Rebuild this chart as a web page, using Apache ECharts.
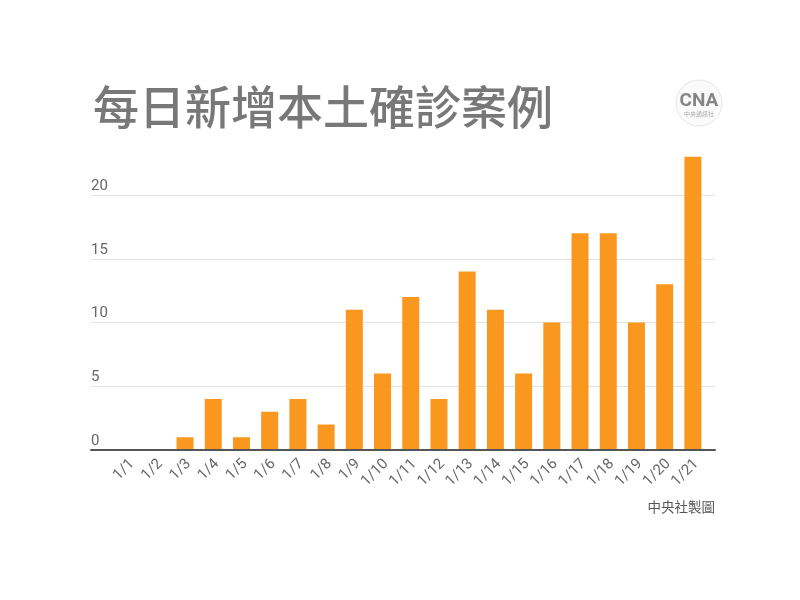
<!DOCTYPE html>
<html>
<head>
<meta charset="UTF-8">
<title>每日新增本土確診案例</title>
<script src="https://cdn.jsdelivr.net/npm/echarts@6/dist/echarts.min.js"></script>
<style>
html, body, #main { width: 800px; height: 600px; margin: 0; padding: 0; background: #fff; }
</style>
</head>
<body>
<div id="main"></div>
<script>
var days = ['1/1','1/2','1/3','1/4','1/5','1/6','1/7','1/8','1/9','1/10','1/11','1/12','1/13','1/14','1/15','1/16','1/17','1/18','1/19','1/20','1/21'];
var cases = [0,0,1,4,1,3,4,2,11,6,12,4,14,11,6,10,17,17,10,13,23];
var yTicks = [0,5,10,15,20];

var chart = echarts.init(document.getElementById('main'));
chart.setOption({
    animation: false,
    backgroundColor: '#fff',
    title: [{
        text: '每日新增本土確診案例',
        left: 88, top: 79,
        textStyle: { color: '#787878', fontSize: 46, fontWeight: 500, fontFamily: 'Noto Sans CJK TC' }
    }],
    graphic: [
        { type: 'circle', shape: { cx: 699, cy: 103, r: 23 }, style: { fill: '#fbfbfb', stroke: '#e6e6e6' } },
        { type: 'text', style: { x: 699, y: 101, text: 'CNA', align: 'center', verticalAlign: 'middle', fill: '#858585', font: 'bold 19px Roboto' } },
        { type: 'text', style: { x: 699, y: 114, text: '中央通訊社', align: 'center', verticalAlign: 'middle', fill: '#aaa', font: '6px "Noto Sans CJK TC"' } },
        { type: 'text', style: { x: 715, y: 507, text: '中央社製圖', align: 'right', verticalAlign: 'middle', fill: '#555', font: '13.5px "Noto Sans CJK TC"' } }
    ],
    // grid 0 carries the gridlines and baseline, grid 1 the inset bars
    grid: [
        { left: 91, right: 85, top: 144, bottom: 150 },
        { left: 114.5, right: 93, top: 144, bottom: 150 }
    ],
    xAxis: [{
        type: 'category',
        gridIndex: 0,
        data: days,
        axisTick: { show: false },
        axisLabel: { show: false },
        axisLine: { lineStyle: { color: '#555', width: 2 } },
        z: 5
    }, {
        type: 'category',
        gridIndex: 1,
        data: days,
        axisTick: { show: false },
        axisLine: { show: false },
        axisLabel: { rotate: 45, interval: 0, color: '#666', fontSize: 15, fontFamily: 'Roboto', margin: 8, verticalAlign: 'top', lineHeight: 10 }
    }],
    yAxis: [{
        type: 'value',
        gridIndex: 0,
        min: 0, max: 24, interval: 5,
        axisLine: { show: false },
        axisTick: { show: false },
        splitLine: { showMaxLine: false, lineStyle: { color: '#e3e3e3' } },
        axisLabel: {
            color: '#666', fontSize: 15, fontFamily: 'Roboto', inside: true, margin: 0, verticalAlign: 'bottom', lineHeight: 18,
            formatter: function (v) { return yTicks.indexOf(v) >= 0 ? String(v) : ''; }
        }
    }, {
        type: 'value',
        gridIndex: 1,
        min: 0, max: 24,
        show: false
    }],
    series: [{
        type: 'bar',
        xAxisIndex: 1,
        yAxisIndex: 1,
        data: cases,
        barWidth: 17,
        itemStyle: { color: '#f9971f' }
    }]
});
</script>
</body>
</html>
